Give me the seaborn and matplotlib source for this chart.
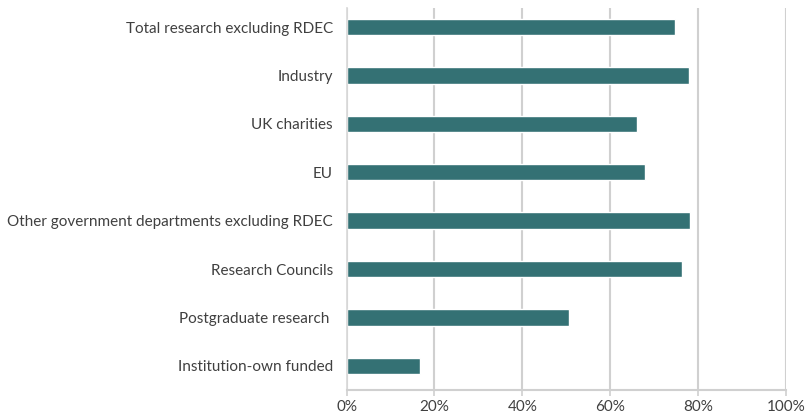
import matplotlib.pyplot as plt
import matplotlib.ticker as mtick
import pandas as pd
import seaborn as sns

# dados
categorias = [
    'Total research excluding RDEC',
    'Industry',
    'UK charities',
    'EU',
    'Other government departments excluding RDEC',
    'Research Councils',
    'Postgraduate research ',
    'Institution-own funded',
]
valores = [0.748, 0.779, 0.661, 0.679, 0.782, 0.764, 0.507, 0.166]

df = pd.DataFrame({'categoria': categorias, 'valor': valores})

sns.set_theme(style='white')
plt.rcParams['font.family'] = ['Lato', 'DejaVu Sans']

fig = plt.figure(figsize=(8.07, 4.16), dpi=100)
ax = fig.add_axes([0.4296, 0.0625, 0.544, 0.919])

sns.barplot(data=df, x='valor', y='categoria', orient='h', color='#347174',
            saturation=1, width=0.34, ax=ax)

ax.set_xlim(0, 1)
ax.set_ylim(7.5, -0.4)
ax.xaxis.set_major_locator(mtick.MultipleLocator(0.2))
ax.xaxis.set_major_formatter(mtick.PercentFormatter(1.0, decimals=0))
ax.grid(axis='x', color='#D0D0D0', linewidth=1.5)
ax.set_axisbelow(True)
ax.set_xlabel('')
ax.set_ylabel('')

for s in ['top', 'right']:
    ax.spines[s].set_visible(False)
ax.spines['left'].set_color('#D9D9D9')
ax.spines['bottom'].set_color('#D0D0D0')
ax.spines['bottom'].set_linewidth(1.5)

ax.tick_params(axis='x', bottom=True, length=4, width=1.2, color='#D0D0D0',
               labelsize=11, labelcolor='#404040', pad=3)
ax.tick_params(axis='y', left=False, length=0, labelsize=11, labelcolor='#404040', pad=10)

fig.savefig('out.png', dpi=100)
